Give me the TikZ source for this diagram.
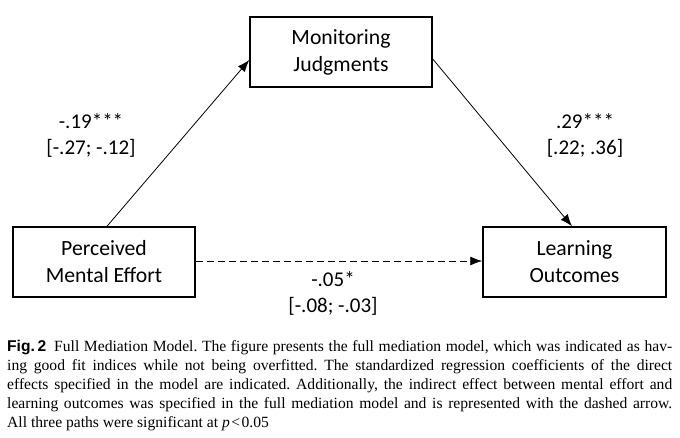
\documentclass[tikz,border=0pt]{standalone}
\usepackage{fontspec}
\setmainfont{Liberation Serif}
\newfontfamily\diagfont{Carlito}
\newfontfamily\capsans{Liberation Sans}
\usetikzlibrary{arrows.meta,positioning,calc}
\frenchspacing
\tikzset{
  boxnode/.style={draw=black, line width=1.5pt, minimum width=182pt, minimum height=70pt, inner sep=0pt, align=center, font=\diagfont\fontsize{21.7pt}{27pt}\selectfont},
  lbl/.style={inner sep=0pt, align=center, font=\diagfont\fontsize{21pt}{26pt}\selectfont},
  conn/.style={line width=0.8pt, -{Latex[length=12pt,width=9pt]}},
  capline/.style={anchor=base west, inner sep=0pt, font=\fontsize{15.6pt}{18.75pt}\selectfont}
}
\newcommand{\capl}[1]{\makebox[665pt][s]{#1}}
\begin{document}
\begin{tikzpicture}[x=1pt,y=-1pt]
\useasboundingbox (0,0) rectangle (680,438);
\node[boxnode] (M) at (341,52) {Monitoring\\Judgments};
\node[boxnode] (P) at (104,262) {Perceived\\Mental Effort};
\node[boxnode, minimum width=183pt] (L) at (574.5,262) {Learning\\Outcomes};
\draw[conn] ([xshift=3pt]P.north) -- ([yshift=-8pt]M.west);
\draw[conn] ([yshift=-7pt]M.east) -- ([xshift=-2.5pt]L.north);
\draw[conn, dash pattern=on 7pt off 4pt] ([yshift=1pt]P.east) -- ([yshift=1pt]L.west);
\node[lbl] (a) at (91,135) {-.19***\\{}[-.27; -.12]};
\node[lbl] (b) at (585,135) {.29***\\{}[.22; .36]};
\node[lbl] (c) at (333,293) {-.05*\\{}[-.08; -.03]};
\node[capline] (c1) at (7,352) {\capl{{\capsans\bfseries Fig.\,2}\hspace{8pt}Full Mediation Model. The figure presents the full mediation model, which was indicated as hav-}};
\node[capline] (c2) at (7,370.75) {\capl{ing good fit indices while not being overfitted. The standardized regression coefficients of the direct}};
\node[capline] (c3) at (7,389.5) {\capl{effects specified in the model are indicated. Additionally, the indirect effect between mental effort and}};
\node[capline] (c4) at (7,408.25) {\capl{learning outcomes was specified in the full mediation model and is represented with the dashed arrow.}};
\node[capline] (c5) at (7,427) {All three paths were significant at \textit{p}\kern1.5pt<\kern1.5pt0.05};
\end{tikzpicture}
\end{document}
